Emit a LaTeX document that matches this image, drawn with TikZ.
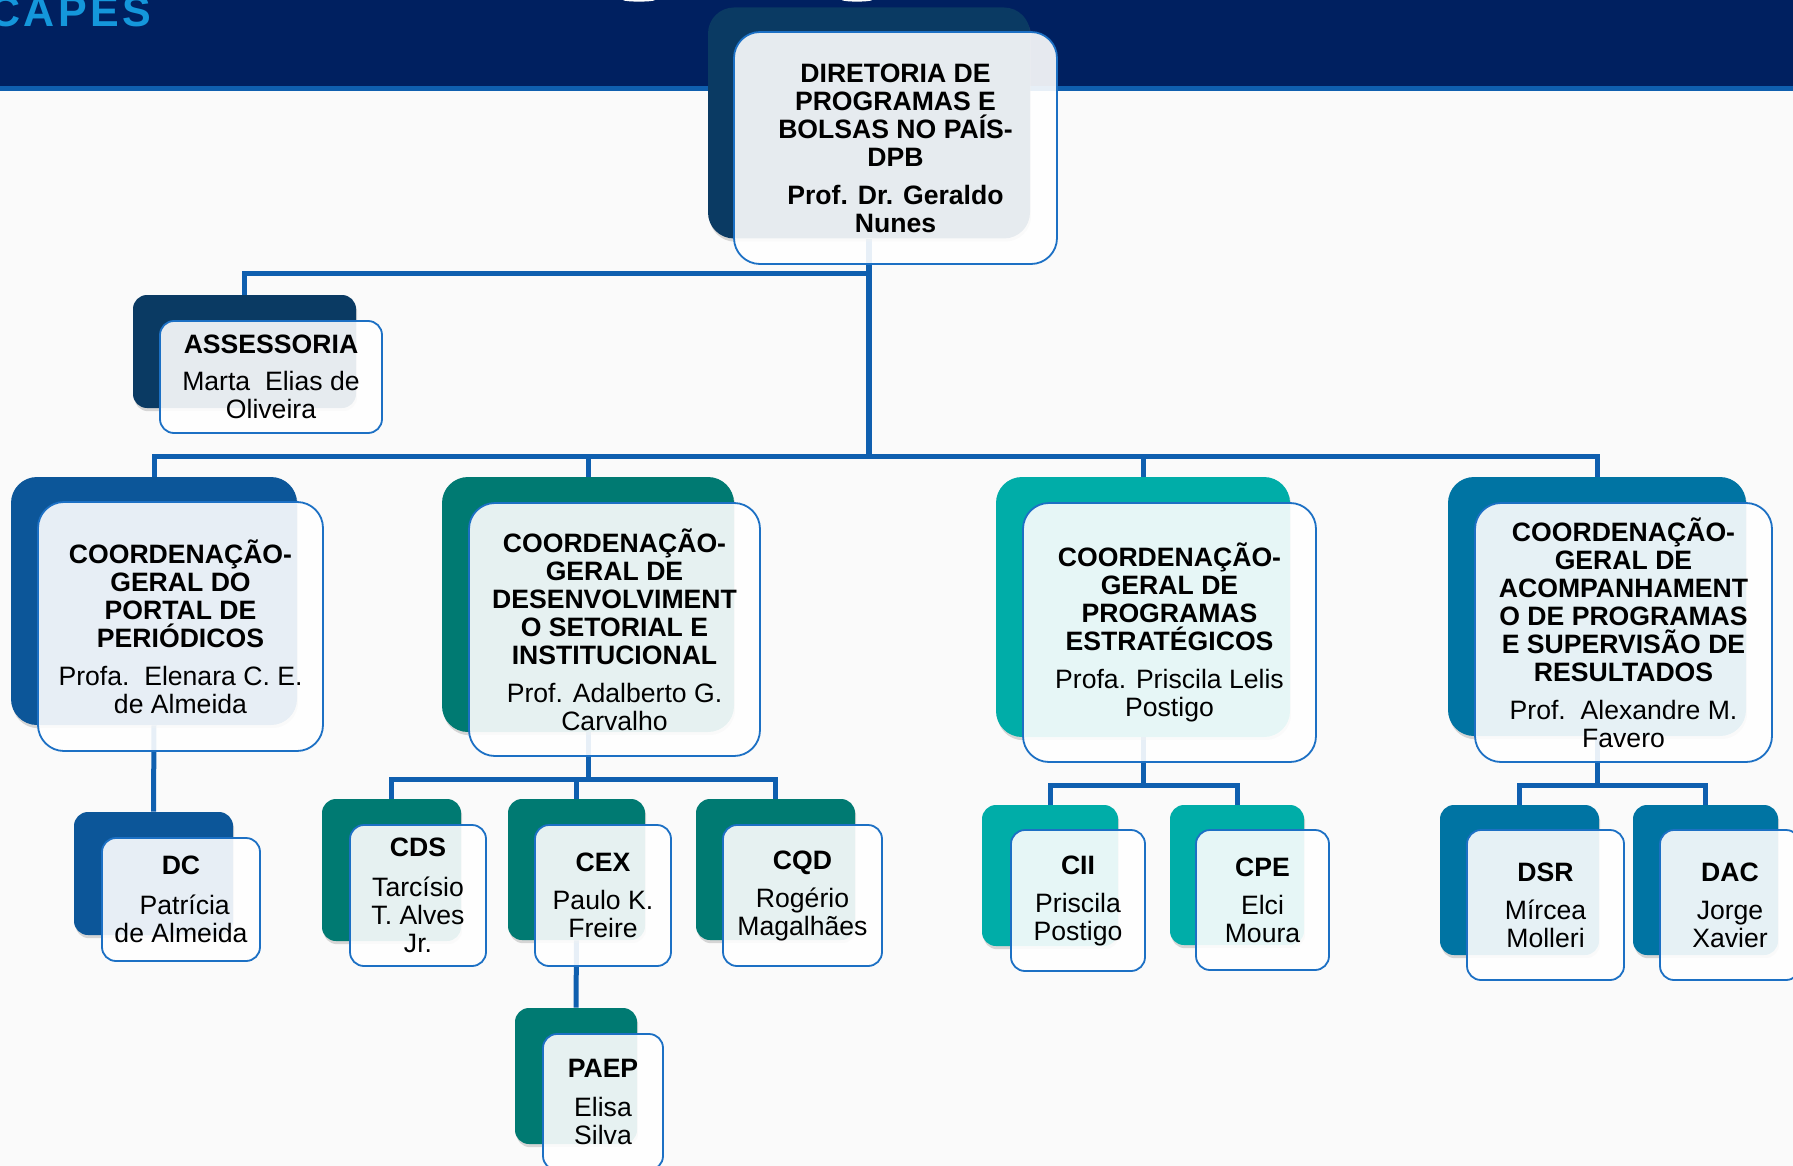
\documentclass[tikz,border=0pt]{standalone}
\usepackage{fontspec}
\setmainfont{Liberation Sans}
\usetikzlibrary{calc}
\usetikzlibrary{shadows}
\usetikzlibrary{backgrounds}
\definecolor{navyband}{HTML}{002060}
\definecolor{capesblue}{HTML}{1497DB}
\definecolor{linkblue}{HTML}{0F5FAF}
\definecolor{edgeblue}{HTML}{1C70C4}
\definecolor{dpbdark}{HTML}{0A3A63}
\definecolor{cgppdark}{HTML}{0C5699}
\definecolor{cgdsidark}{HTML}{007A72}
\definecolor{cgpedark}{HTML}{00ADA8}
\definecolor{cgasdark}{HTML}{0074A3}
\tikzset{
  backbox/.style={draw=none, inner sep=0, rounded corners=#1,
    drop shadow={shadow xshift=.6pt, shadow yshift=-1.6pt, opacity=.3}},
  frontbox/.style={draw=edgeblue, line width=.9pt, fill=white, fill opacity=.9,
    text opacity=1, text=black, inner sep=0, align=center, rounded corners=#1,
    font=\fontsize{13.3}{14}\selectfont},
  link/.style={draw=linkblue, line width=2.5pt},
  trunk/.style={draw=linkblue, line width=3.2pt}
}
\begin{document}
\begin{tikzpicture}[x=.5pt,y=-.5pt]
    \clip (0,0) rectangle (1793,1166);
    % dark boxes
    \foreach \nome/\cx/\cy/\larg/\alt/\cor/\raio in {
      dpb/869/123/322/231/dpbdark/13pt, ass/244.5/351.5/223/113/dpbdark/7pt,
      cgpp/154/601/286/248/cgppdark/13pt, cgdsi/588/604.5/292/255/cgdsidark/13pt,
      cgpe/1143/607/294/260/cgpedark/13pt, cgas/1597/606.5/298/259/cgasdark/13pt,
      dc/153.5/873.5/159/123/cgppdark/7pt,
      cds/391.5/870/139/142/cgdsidark/7pt, cex/576.5/869.5/137/141/cgdsidark/7pt,
      cqd/775.5/869.5/159/141/cgdsidark/7pt, paep/576/1076/122/136/cgdsidark/7pt,
      cii/1050/875.5/136/141/cgpedark/7pt, cpe/1237/875/134/140/cgpedark/7pt,
      dsr/1519.5/880/159/150/cgasdark/7pt, dac/1705.5/880/145/150/cgasdark/7pt} {
      \node[backbox=\raio, fill=\cor, minimum width=\larg*.5pt, minimum height=\alt*.5pt]
        (\nome-back) at (\cx,\cy) {};
    }
    % front boxes
    \node[frontbox=13pt, minimum width=161.5pt, minimum height=116pt] (dpb-front) at (895.5,148)
      {\textbf{DIRETORIA DE}\\\textbf{PROGRAMAS E}\\\textbf{BOLSAS NO PAÍS-}\\\textbf{DPB}\\[5pt]\textbf{Prof. Dr. Geraldo}\\\textbf{Nunes}};
    \node[frontbox=7pt, minimum width=111pt, minimum height=56pt] (ass-front) at (271,377)
      {\textbf{ASSESSORIA}\\[4.6pt]Marta\ \ Elias de\\Oliveira};
    \node[frontbox=13pt, minimum width=142.5pt, minimum height=124.5pt] (cgpp-front) at (180.5,626.5)
      {\textbf{COORDENAÇÃO-}\\\textbf{GERAL DO}\\\textbf{PORTAL DE}\\\textbf{PERIÓDICOS}\\[5pt]Profa.\ \ Elenara C. E.\\de Almeida};
    \node[frontbox=13pt, minimum width=145.5pt, minimum height=126.5pt] (cgdsi-front) at (614.5,629.5)
      {\textbf{COORDENAÇÃO-}\\\textbf{GERAL DE}\\\textbf{DESENVOLVIMENT}\\\textbf{O SETORIAL E}\\\textbf{INSTITUCIONAL}\\[5pt]Prof. Adalberto G.\\Carvalho};
    \node[frontbox=13pt, minimum width=146.5pt, minimum height=129.5pt] (cgpe-front) at (1169.5,632.5)
      {\textbf{COORDENAÇÃO-}\\\textbf{GERAL DE}\\\textbf{PROGRAMAS}\\\textbf{ESTRATÉGICOS}\\[5pt]Profa. Priscila Lelis\\Postigo};
    \node[frontbox=13pt, minimum width=148.5pt, minimum height=129.5pt] (cgas-front) at (1623.5,632.5)
      {\textbf{COORDENAÇÃO-}\\\textbf{GERAL DE}\\\textbf{ACOMPANHAMENT}\\\textbf{O DE PROGRAMAS}\\\textbf{E SUPERVISÃO DE}\\\textbf{RESULTADOS}\\[5pt]Prof.\ \ Alexandre M.\\Favero};
    \node[frontbox=7pt, minimum width=79pt, minimum height=61.5pt] (dc-front) at (181,899.5)
      {\textbf{DC}\\[5.7pt]\ Patrícia\\de Almeida};
    \node[frontbox=7pt, minimum width=68pt, minimum height=70.5pt] (cds-front) at (418,895.5)
      {\textbf{CDS}\\[5.7pt]Tarcísio\\T. Alves\\Jr.};
    \node[frontbox=7pt, minimum width=68pt, minimum height=70.5pt] (cex-front) at (603,895.5)
      {\textbf{CEX}\\[5pt]Paulo K.\\Freire};
    \node[frontbox=7pt, minimum width=79.5pt, minimum height=70.5pt] (cqd-front) at (802.5,895.5)
      {\textbf{CQD}\\[5pt]Rogério\\Magalhães};
    \node[frontbox=7pt, minimum width=60pt, minimum height=68pt] (paep-front) at (603,1102)
      {\textbf{PAEP}\\[5.7pt]Elisa\\Silva};
    \node[frontbox=7pt, minimum width=67pt, minimum height=70.5pt] (cii-front) at (1078,900.5)
      {\textbf{CII}\\[5pt]Priscila\\Postigo};
    \node[frontbox=7pt, minimum width=66.5pt, minimum height=70pt] (cpe-front) at (1262.5,900)
      {\textbf{CPE}\\[5pt]Elci\\Moura};
    \node[frontbox=7pt, minimum width=78.5pt, minimum height=75pt] (dsr-front) at (1545.5,905)
      {\textbf{DSR}\\[5pt]Mírcea\\Molleri};
    \node[frontbox=7pt, minimum width=70pt, minimum height=75pt] (dac-front) at (1730,905)
      {\textbf{DAC}\\[5pt]Jorge\\Xavier};
    % band text, cut by the page edge
    \node[anchor=base west, inner sep=0, text=capesblue, font=\fontsize{21.5}{22}\selectfont\bfseries\addfontfeature{LetterSpace=8}] (capes) at (-11,27) {CAPES};
    \fill[white] (639,0) ellipse (16 and 1.6);
    \fill[white] (857,0) ellipse (15 and 1.6);
    % band and connectors go under the boxes
    \coordinate (asbus) at (869,274);
    \coordinate (topbus) at (869,456);
    \coordinate (dsibus) at (588,779);
    \coordinate (pebus) at (1143,785);
    \coordinate (asubus) at (1597,785);
    \begin{pgfonlayer}{background}
      \fill[white!98!black] (0,0) rectangle (1793,1166);
      \fill[navyband] (0,0) rectangle (1793,86);
      \fill[linkblue] (0,86) rectangle (1793,91);
      \draw[trunk] (dpb-back.south) -- (topbus);
      \draw[link] (asbus) -| (ass-back.north);
      \foreach \filho in {cgpp,cgdsi,cgpe,cgas} {
        \draw[link] (topbus) -| (\filho-back.north);
      }
      \draw[link] (cgpp-back.south) -- (dc-back.north);
      \draw[link] (cgdsi-back.south) -- (dsibus);
      \foreach \filho in {cds,cex,cqd} {
        \draw[link] (dsibus) -| (\filho-back.north);
      }
      \draw[link] (cex-back.south) -- (paep-back.north);
      \draw[link] (cgpe-back.south) -- (pebus);
      \foreach \filho in {cii,cpe} {
        \draw[link] (pebus) -| (\filho-back.north);
      }
      \draw[link] (cgas-back.south) -- (asubus);
      \foreach \filho in {dsr,dac} {
        \draw[link] (asubus) -| (\filho-back.north);
      }
    \end{pgfonlayer}
\end{tikzpicture}
\end{document}
